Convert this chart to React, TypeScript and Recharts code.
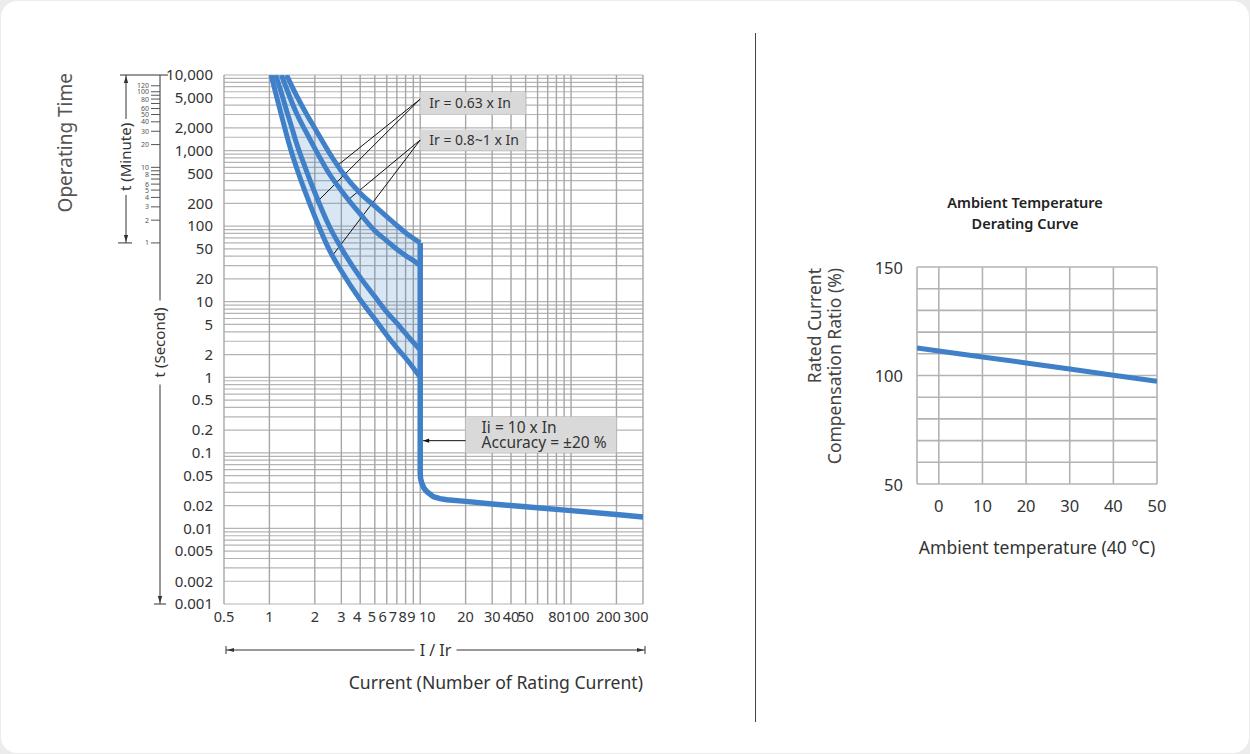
import React from 'react';
import {
  ComposedChart,
  LineChart,
  Line,
  Area,
  XAxis,
  YAxis,
  CartesianGrid,
  ReferenceArea,
  ReferenceLine,
} from 'recharts';

const FONT = "'Noto Sans', 'DejaVu Sans', sans-serif";
const BLUE = '#3f80c9';
const TEXT = '#333333';

// ---------- Trip characteristic (left chart) ----------
const T_MIN = 0.001;
const T_MAX = 10000;
const I_MIN = 0.5;
const I_MAX = 300;
const SECONDS_PER_MINUTE = 60;

// multiples of rated current (I / Ir)
const CURRENT = [1.025, 1.1, 1.2, 1.3, 1.4, 1.5, 1.75, 2, 2.5, 3, 4, 5, 6, 7, 8, 9, 10];
// operating time (s) of the four thermal curves, null = above 10,000 s
const CURVE_A = [10000, 5780, 2960, 1610, 957, 625, 265, 134, 48, 25.5, 10.6, 5.9, 3.6, 2.45, 1.8, 1.33, 1.0];
const CURVE_B = [null, 10000, 5820, 3370, 2090, 1318, 557, 279, 99, 51, 21, 11.7, 7.3, 5.2, 3.8, 2.9, 2.3];
const CURVE_C = [null, null, 10000, 6600, 4500, 3240, 1763, 1069, 490, 295, 145, 87, 64, 49.4, 40.8, 35.2, 30];
const CURVE_D = [null, null, null, 10000, 7300, 5540, 3124, 1978, 929, 537, 273, 184, 134, 102, 82, 69, 60];

// instantaneous trip branch
const INST_CURRENT = [10, 10, 10.05, 10.24, 10.6, 11.04, 12.2, 13.5, 15, 20, 30, 50, 100, 200, 300];
const INST_TIME = [60, 0.054, 0.046, 0.0397, 0.034, 0.0308, 0.0264, 0.0248, 0.0239, 0.0228, 0.0211, 0.0194, 0.0172, 0.0153, 0.0142];

const X_GRID = [0.5, 1, 2, 3, 4, 5, 6, 7, 8, 9, 10, 20, 30, 40, 50, 60, 70, 80, 90, 100, 200, 300];
const X_LABELS = [0.5, 1, 2, 3, 4, 5, 6, 7, 8, 9, 10, 20, 30, 40, 50, 80, 100, 200, 300];
const T_GRID = [
  0.001, 0.002, 0.003, 0.004, 0.005, 0.006, 0.007, 0.008, 0.009,
  0.01, 0.02, 0.03, 0.04, 0.05, 0.06, 0.07, 0.08, 0.09,
  0.1, 0.2, 0.3, 0.4, 0.5, 0.6, 0.7, 0.8, 0.9,
  1, 2, 3, 4, 5, 6, 7, 8, 9,
  10, 20, 30, 40, 50, 60, 70, 80, 90,
  100, 200, 300, 400, 500, 600, 700, 800, 900,
  1000, 1500, 2000, 3000, 4000, 5000, 6000, 7000, 8000, 9000,
  10000,
];
const T_LABELS = [10000, 5000, 2000, 1000, 500, 200, 100, 50, 20, 10, 5, 2, 1, 0.5, 0.2, 0.1, 0.05, 0.02, 0.01, 0.005, 0.002, 0.001];
const MINUTE_TICKS = [1, 2, 3, 4, 5, 6, 7, 8, 9, 10, 20, 30, 40, 50, 60, 70, 80, 90, 100, 120];
const MINUTE_LABELS = [1, 2, 3, 4, 5, 6, 8, 10, 20, 30, 40, 50, 60, 80, 100, 120];

// ---------- Derating curve (right chart) ----------
const TEMP = [-5, 0, 10, 20, 30, 40, 50];
const RATIO = [112.7, 111.3, 108.5, 105.8, 103.0, 100.1, 97.3];
const TEMP_GRID = [-5, 0, 10, 20, 30, 40, 50];
const TEMP_LABELS = [0, 10, 20, 30, 40, 50];
const RATIO_GRID = [50, 60, 70, 80, 90, 100, 110, 120, 130, 140, 150];
const RATIO_LABELS = [50, 100, 150];

const curveRows = CURRENT.map((i, k) => ({
  i,
  a: CURVE_A[k],
  b: CURVE_B[k],
  c: CURVE_C[k],
  d: CURVE_D[k],
  band: [CURVE_A[k], CURVE_D[k] ?? T_MAX],
}));
const instRows = INST_CURRENT.map((i, k) => ({ i, t: INST_TIME[k] }));
const derRows = TEMP.map((temp, k) => ({ temp, ratio: RATIO[k] }));

const fmtTime = (v: number) => (v >= 1000 ? v.toLocaleString('en-US') : String(v));

const X_LABEL_SHIFT: Record<string, number> = {
  '4': -3, '5': -3, '6': -4, '7': -4, '8': -3, '9': -2, '10': 7, '100': 6, '200': -8, '300': -7,
};

function CurrentTick(p: any) {
  const v = p.payload?.value;
  if (!X_LABELS.includes(v)) return <g />;
  const dx = X_LABEL_SHIFT[String(v)] ?? 0;
  return (
    <text x={p.x + dx} y={p.y} textAnchor="middle" fontSize={14.5} fill={TEXT} fontFamily={FONT}>
      {v}
    </text>
  );
}

function SecondTick(p: any) {
  const v = p.payload?.value;
  if (!T_LABELS.includes(v)) return <g />;
  return (
    <text x={p.x} y={p.y} dy="0.35em" textAnchor="end" fontSize={15} fill={TEXT} fontFamily={FONT}>
      {fmtTime(v)}
    </text>
  );
}

function MinuteTick(p: any) {
  const v = p.payload?.value;
  if (!MINUTE_LABELS.includes(v)) return <g />;
  return (
    <text x={p.x} y={p.y} dy="0.35em" textAnchor="end" fontSize={7} fill="#555" fontFamily={FONT}>
      {v}
    </text>
  );
}

function AxisDecor(props: any) {
  const vb = props.viewBox;
  if (!vb) return null;
  const { x, y, width, height } = vb;
  const ax = x + width;
  const span = Math.log10(T_MAX) - Math.log10(T_MIN);
  const yMinute = y + (height * (Math.log10(T_MAX) - Math.log10(SECONDS_PER_MINUTE))) / span;
  const yBottom = y + height;
  const bx = ax - 34;
  const minMid = (y + yMinute) / 2 - 2;
  const secMid = (y + yBottom) / 2 + 3;
  const s = '#333';
  return (
    <g fontFamily={FONT}>
      <text
        transform={`rotate(-90 ${x - 28} ${y - 2})`}
        x={x - 28}
        y={y - 2}
        textAnchor="end"
        fontSize={19}
        fill="#555"
      >
        Operating Time
      </text>
      <line x1={ax - 40} y1={y} x2={ax + 8} y2={y} stroke={s} strokeWidth={1} />
      <line x1={bx} y1={y} x2={bx} y2={minMid - 38} stroke={s} strokeWidth={1} />
      <line x1={bx} y1={minMid + 38} x2={bx} y2={yMinute} stroke={s} strokeWidth={1} />
      <path d={`M${bx} ${y + 1} l-2.2 7 l4.4 0 z`} fill={s} />
      <path d={`M${bx} ${yMinute - 1} l-2.2 -7 l4.4 0 z`} fill={s} />
      <line x1={ax - 42} y1={yMinute} x2={ax - 28} y2={yMinute} stroke={s} strokeWidth={1} />
      <text
        transform={`rotate(-90 ${bx} ${minMid})`}
        x={bx}
        y={minMid}
        dy="0.35em"
        textAnchor="middle"
        fontSize={15}
        fill={TEXT}
      >
        t (Minute)
      </text>
      <line x1={ax} y1={y} x2={ax} y2={secMid - 42} stroke="#555" strokeWidth={1.2} />
      <line x1={ax} y1={secMid + 42} x2={ax} y2={yBottom} stroke="#555" strokeWidth={1.2} />
      <path d={`M${ax} ${yBottom - 1} l-2.2 -7 l4.4 0 z`} fill={s} />
      <line x1={ax - 6} y1={yBottom} x2={ax + 6} y2={yBottom} stroke={s} strokeWidth={1} />
      <text
        transform={`rotate(-90 ${ax} ${secMid})`}
        x={ax}
        y={secMid}
        dy="0.35em"
        textAnchor="middle"
        fontSize={15}
        fill={TEXT}
      >
        t (Second)
      </text>
    </g>
  );
}

function CurrentDecor(props: any) {
  const vb = props.viewBox;
  if (!vb) return null;
  const { x, y, width } = vb;
  const ly = y + 46;
  const x0 = x + 2;
  const x1 = x + width + 2;
  const mid = (x0 + x1) / 2;
  const s = '#333';
  return (
    <g fontFamily={FONT}>
      <line x1={x0} y1={ly} x2={mid - 21} y2={ly} stroke={s} strokeWidth={1} />
      <line x1={mid + 21} y1={ly} x2={x1} y2={ly} stroke={s} strokeWidth={1} />
      <line x1={x0} y1={ly - 4} x2={x0} y2={ly + 4} stroke={s} strokeWidth={1} />
      <line x1={x1} y1={ly - 4} x2={x1} y2={ly + 4} stroke={s} strokeWidth={1} />
      <path d={`M${x0 + 1} ${ly} l7 -2 l0 4 z`} fill={s} />
      <path d={`M${x1 - 1} ${ly} l-7 -2 l0 4 z`} fill={s} />
      <text x={mid} y={ly} dy="0.35em" textAnchor="middle" fontSize={16} fill={TEXT}>
        I / Ir
      </text>
      <text x={x + width} y={y + 85} textAnchor="end" fontSize={17.6} fill={TEXT}>
        Current (Number of Rating Current)
      </text>
    </g>
  );
}

function BoxLabel(text: string) {
  return (props: any) => {
    const vb = props.viewBox;
    if (!vb) return null;
    return (
      <text
        x={vb.x + 9}
        y={vb.y + vb.height / 2}
        dy="0.35em"
        fontSize={14}
        fill={TEXT}
        fontFamily={FONT}
      >
        {text}
      </text>
    );
  };
}

function InstLabel(props: any) {
  const vb = props.viewBox;
  if (!vb) return null;
  return (
    <g fontFamily={FONT} fontSize={15.5} fill={TEXT}>
      <text x={vb.x + 16} y={vb.y + 16}>Ii = 10 x In</text>
      <text x={vb.x + 16} y={vb.y + 31}>Accuracy = ±20 %</text>
    </g>
  );
}

function ArrowShape(p: any) {
  const { x1, y1, x2, y2 } = p;
  return (
    <g>
      <line x1={x1} y1={y1} x2={x2} y2={y2} stroke="#111" strokeWidth={1} />
      <path d={`M${x2} ${y2} l6 -2.2 l0 4.4 z`} fill="#111" />
    </g>
  );
}

function TempTick(p: any) {
  const v = p.payload?.value;
  if (!TEMP_LABELS.includes(v)) return <g />;
  return (
    <text x={p.x} y={p.y} textAnchor="middle" fontSize={16.5} fill={TEXT} fontFamily={FONT}>
      {v}
    </text>
  );
}

function RatioTick(p: any) {
  const v = p.payload?.value;
  if (!RATIO_LABELS.includes(v)) return <g />;
  return (
    <text x={p.x} y={p.y} dy="0.4em" textAnchor="end" fontSize={16.5} fill={TEXT} fontFamily={FONT}>
      {v}
    </text>
  );
}

function TempLabel(props: any) {
  const vb = props.viewBox;
  if (!vb) return null;
  return (
    <text
      x={vb.x + vb.width / 2}
      y={vb.y + 70}
      textAnchor="middle"
      fontSize={17.5}
      fill={TEXT}
      fontFamily={FONT}
    >
      Ambient temperature (40 °C)
    </text>
  );
}

function RatioLabel(props: any) {
  const vb = props.viewBox;
  if (!vb) return null;
  const top = vb.y + 1;
  const x1 = vb.x - 46;
  const x2 = vb.x - 26;
  return (
    <g fontFamily={FONT} fontSize={17.5} fill="#444">
      <text transform={`rotate(-90 ${x1} ${top})`} x={x1} y={top} textAnchor="end">
        Rated Current
      </text>
      <text transform={`rotate(-90 ${x2} ${top})`} x={x2} y={top} textAnchor="end">
        Compensation Ratio (%)
      </text>
    </g>
  );
}

export default function App() {
  return (
    <div
      style={{
        position: 'absolute',
        left: 0,
        top: 0,
        width: 1250,
        height: 754,
        background: '#ececec',
        fontFamily: FONT,
        overflow: 'hidden',
      }}
    >
      <div
        style={{
          position: 'absolute',
          left: 1,
          top: 1,
          width: 1248,
          height: 752,
          background: '#ffffff',
          borderRadius: 16,
        }}
      />
      {/* separator */}
      <div style={{ position: 'absolute', left: 755, top: 33, width: 1, height: 689, background: '#444' }} />

      <div style={{ position: 'absolute', left: 0, top: 0 }}>
        <ComposedChart
          width={700}
          height={700}
          data={curveRows}
          margin={{ top: 75, right: 57, bottom: 66, left: 100 }}
        >
          <CartesianGrid vertical={false} stroke="#b4b4b4" strokeWidth={1.2} />
          <CartesianGrid horizontal={false} stroke="#a6a6a6" strokeWidth={1.4} />
          <XAxis
            dataKey="i"
            type="number"
            scale="log"
            domain={[I_MIN, I_MAX]}
            ticks={X_GRID}
            interval={0}
            allowDataOverflow
            axisLine={false}
            tickLine={false}
            tickSize={0}
            tickMargin={18}
            height={30}
            tick={(p: any) => <CurrentTick {...p} />}
            label={(p: any) => <CurrentDecor {...p} />}
          />
          <YAxis
            type="number"
            scale="log"
            domain={[T_MIN, T_MAX]}
            ticks={T_GRID}
            interval={0}
            allowDataOverflow
            axisLine={false}
            tickLine={false}
            tickSize={0}
            tickMargin={11}
            width={64}
            tick={(p: any) => <SecondTick {...p} />}
          />
          <YAxis
            yAxisId="min"
            type="number"
            scale="log"
            domain={[T_MIN / SECONDS_PER_MINUTE, T_MAX / SECONDS_PER_MINUTE]}
            ticks={MINUTE_TICKS}
            interval={0}
            allowDataOverflow
            axisLine={false}
            tickLine={{ stroke: '#555', strokeWidth: 1 }}
            tickSize={9}
            tickMargin={2}
            width={60}
            tick={(p: any) => <MinuteTick {...p} />}
            label={(p: any) => <AxisDecor {...p} />}
          />
          <Area
            dataKey="band"
            type="monotone"
            stroke="none"
            fill={BLUE}
            fillOpacity={0.2}
            isAnimationActive={false}
          />
          <ReferenceArea x1={10} x2={50} y1={3000} y2={5900} fill="#d9d9d9" fillOpacity={1} stroke="none" label={BoxLabel('Ir = 0.63 x In')} />
          <ReferenceArea x1={10} x2={50} y1={1000} y2={1900} fill="#d9d9d9" fillOpacity={1} stroke="none" label={BoxLabel('Ir = 0.8~1 x In')} />
          <ReferenceArea x1={20} x2={200} y1={0.1} y2={0.3} fill="#d9d9d9" fillOpacity={1} stroke="none" label={(p: any) => <InstLabel {...p} />} />
          <ReferenceLine segment={[{ x: 10, y: 4800 }, { x: 2.8, y: 625 }]} stroke="#111" strokeWidth={1} />
          <ReferenceLine segment={[{ x: 10, y: 4800 }, { x: 2.04, y: 203 }]} stroke="#111" strokeWidth={1} />
          <ReferenceLine segment={[{ x: 10, y: 1380 }, { x: 3.32, y: 222 }]} stroke="#111" strokeWidth={1} />
          <ReferenceLine segment={[{ x: 10, y: 1380 }, { x: 2.6, y: 40 }]} stroke="#111" strokeWidth={1} />
          <ReferenceLine
            segment={[{ x: 20, y: 0.145 }, { x: 10.45, y: 0.145 }]}
            stroke="#111"
            strokeWidth={1}
            shape={(p: any) => <ArrowShape {...p} />}
          />
          <Line dataKey="a" type="monotone" stroke={BLUE} strokeWidth={5} dot={false} activeDot={false} isAnimationActive={false} />
          <Line dataKey="b" type="monotone" stroke={BLUE} strokeWidth={5} dot={false} activeDot={false} isAnimationActive={false} />
          <Line dataKey="c" type="monotone" stroke={BLUE} strokeWidth={5} dot={false} activeDot={false} isAnimationActive={false} />
          <Line dataKey="d" type="monotone" stroke={BLUE} strokeWidth={5} dot={false} activeDot={false} isAnimationActive={false} />
          <Line
            data={instRows}
            dataKey="t"
            type="linear"
            stroke={BLUE}
            strokeWidth={5.5}
            strokeLinejoin="round"
            dot={false}
            activeDot={false}
            isAnimationActive={false}
          />
        </ComposedChart>
      </div>

      <div
        style={{
          position: 'absolute',
          left: 925,
          top: 192,
          width: 200,
          textAlign: 'center',
          fontSize: 14.5,
          lineHeight: '21px',
          fontWeight: 600,
          color: '#222',
        }}
      >
        Ambient Temperature
        <br />
        Derating Curve
      </div>

      <div style={{ position: 'absolute', left: 770, top: 180 }}>
        <LineChart
          width={420}
          height={400}
          data={derRows}
          margin={{ top: 87, right: 33, bottom: 56, left: 97 }}
        >
          <CartesianGrid stroke="#b3b3b3" strokeWidth={1.6} />
          <XAxis
            dataKey="temp"
            type="number"
            domain={[-5, 50]}
            ticks={TEMP_GRID}
            interval={0}
            allowDataOverflow
            axisLine={false}
            tickLine={false}
            tickSize={0}
            tickMargin={28}
            height={40}
            tick={(p: any) => <TempTick {...p} />}
            label={(p: any) => <TempLabel {...p} />}
          />
          <YAxis
            type="number"
            domain={[50, 150]}
            ticks={RATIO_GRID}
            interval={0}
            allowDataOverflow
            axisLine={false}
            tickLine={false}
            tickSize={0}
            tickMargin={14}
            width={50}
            tick={(p: any) => <RatioTick {...p} />}
            label={(p: any) => <RatioLabel {...p} />}
          />
          <Line dataKey="ratio" type="linear" stroke={BLUE} strokeWidth={5} dot={false} activeDot={false} isAnimationActive={false} />
        </LineChart>
      </div>
    </div>
  );
}
